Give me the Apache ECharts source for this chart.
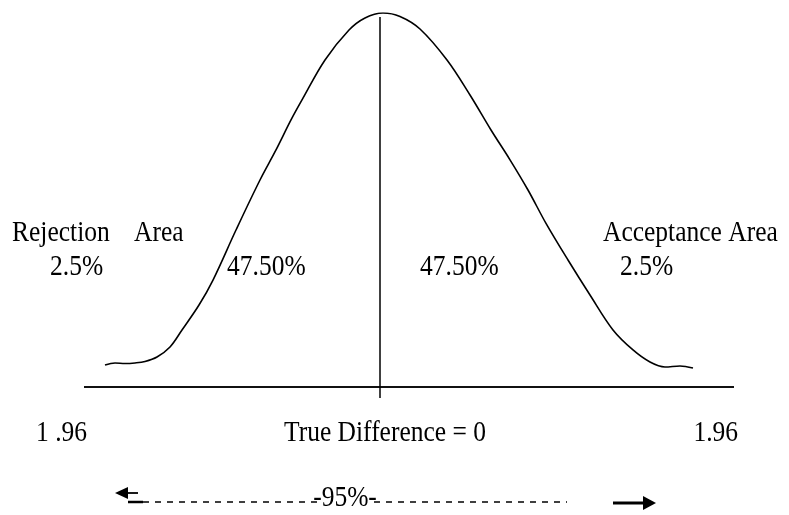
<!DOCTYPE html>
<html>
<head>
<meta charset="utf-8">
<title>Two-tailed test at 95%</title>
<script src="https://cdn.jsdelivr.net/npm/echarts@6/dist/echarts.min.js"></script>
<style>
  html, body { margin: 0; padding: 0; background: #fff; }
  #chart { width: 789px; height: 515px; }
</style>
</head>
<body>
<div id="chart"></div>
<script>
// Bell curve, hand traced: z position and curve height
const curveZ = [-2.75, -2.65, -2.55, -2.45, -2.35, -2.23, -2.10, -1.98, -1.81, -1.67,
  -1.44, -1.20, -1.04, -0.89, -0.78, -0.55, -0.31, -0.15, 0.03,
  0.20, 0.40, 0.67, 0.90, 1.11, 1.30, 1.48, 1.66, 1.88, 2.10, 2.33, 2.53, 2.70, 2.85, 3.00, 3.13];
const curveH = [0.0235, 0.0257, 0.0251, 0.0257, 0.0273, 0.0321, 0.0428, 0.0610, 0.0877, 0.1144,
  0.1679, 0.2214, 0.2535, 0.2856, 0.3070, 0.3497, 0.3818, 0.3947, 0.4000,
  0.3963, 0.3829, 0.3497, 0.3123, 0.2749, 0.2430, 0.2107, 0.1750, 0.1358, 0.0984, 0.0610, 0.0396, 0.0267, 0.0214, 0.0225, 0.0203];

// Base line and the centre line (true difference = 0)
const baseZ = [-2.96, 3.54];
const centerZ = 0;
const centerH = [-0.0118, 0.3957];

// Texts
const tailTitles = ['Rejection', 'Area', 'Acceptance Area'];
const tailShares = ['2.5%', '2.5%'];
const bodyShares = ['47.50%', '47.50%'];
const axisTexts = ['1 .96', 'True Difference = 0', '1.96'];
const spanText = '-95%-';

const chart = echarts.init(document.getElementById('chart'), null, { renderer: 'canvas' });

const FONT = '"Liberation Serif", "Times New Roman", serif';
const INK = '#000';
const SY = 1.15;

function txt(cx, cy, s, align) {
  return {
    type: 'text',
    x: cx, y: cy,
    scaleY: SY,
    silent: true,
    style: {
      x: 0, y: 0,
      text: s,
      fill: INK,
      fontFamily: FONT,
      fontSize: 25.5,
      align: align || 'left',
      verticalAlign: 'middle'
    }
  };
}

const graphics = [
  txt(12, 233, tailTitles[0]),
  txt(134, 233, tailTitles[1]),
  txt(50, 267, tailShares[0]),
  txt(227, 267, bodyShares[0]),
  txt(420, 267, bodyShares[1]),
  txt(603, 233, tailTitles[2]),
  txt(620, 267, tailShares[1]),
  txt(36, 433, axisTexts[0]),
  txt(385, 433, axisTexts[1], 'center'),
  txt(738, 433, axisTexts[2], 'right'),
  // dashed span line with the 95% label
  { type: 'line', silent: true, shape: { x1: 143, y1: 502, x2: 318, y2: 502 },
    style: { stroke: INK, lineWidth: 1.5, lineDash: [6, 6] } },
  { type: 'line', silent: true, shape: { x1: 374, y1: 502, x2: 567, y2: 502 },
    style: { stroke: INK, lineWidth: 1.5, lineDash: [6, 6] } },
  txt(345, 498, spanText, 'center'),
  // left arrow
  { type: 'line', silent: true, shape: { x1: 122, y1: 493, x2: 138, y2: 493 },
    style: { stroke: INK, lineWidth: 1.8 } },
  { type: 'polygon', silent: true, shape: { points: [[115, 493], [128, 487], [128, 499]] },
    style: { fill: INK } },
  { type: 'line', silent: true, shape: { x1: 128, y1: 502, x2: 143, y2: 502 },
    style: { stroke: INK, lineWidth: 2.5 } },
  // right arrow
  { type: 'line', silent: true, shape: { x1: 613, y1: 503, x2: 645, y2: 503 },
    style: { stroke: INK, lineWidth: 3 } },
  { type: 'polygon', silent: true, shape: { points: [[656, 503], [643, 496], [643, 510]] },
    style: { fill: INK } }
];

chart.setOption({
  animation: false,
  backgroundColor: '#fff',
  grid: { left: 20, right: 9, top: 13, bottom: 15.8 },
  xAxis: { type: 'value', min: -3.6, max: 4.0, show: false },
  yAxis: { type: 'value', min: -0.12, max: 0.4, show: false },
  series: [
    {
      name: 'curve', type: 'line', smooth: 0.35, symbol: 'none',
      lineStyle: { color: INK, width: 1.6 },
      data: curveZ.map((z, i) => [z, curveH[i]])
    },
    {
      name: 'base', type: 'line', symbol: 'none',
      lineStyle: { color: '#111', width: 2.2 },
      data: baseZ.map(z => [z, 0])
    },
    {
      name: 'center', type: 'line', symbol: 'none',
      lineStyle: { color: INK, width: 1.5 },
      data: centerH.map(h => [centerZ, h])
    }
  ],
  graphic: graphics
});
</script>
</body>
</html>
